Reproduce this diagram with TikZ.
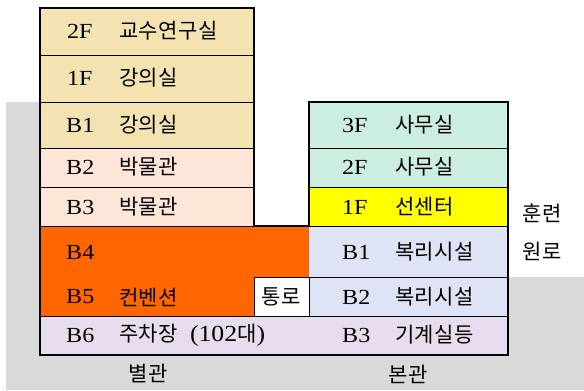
\documentclass[tikz,border=0pt]{standalone}
\usepackage{fontspec}
\setmainfont{Liberation Serif}[FakeStretch=1.12]
\newfontfamily\kr[LetterSpace=2]{Noto Sans CJK KR}
\definecolor{groundgray}{HTML}{D9D9D9}
\definecolor{tanfill}{HTML}{F3E3B1}
\definecolor{peachfill}{HTML}{FDE5D7}
\definecolor{orangefill}{HTML}{FF6600}
\definecolor{lavfill}{HTML}{E8DDEF}
\definecolor{mintfill}{HTML}{CCEEE0}
\definecolor{yelfill}{HTML}{FFFF00}
\definecolor{bluefill}{HTML}{DEE4F6}
\begin{document}
\begin{tikzpicture}[x=1pt,y=-1pt,
  wall/.style={draw=black,line width=1.2pt,line join=miter},
  sep/.style={draw=black,line width=1pt},
  lbl/.style={anchor=west,inner sep=0pt,font=\fontsize{21.5}{24}\selectfont},
  krl/.style={anchor=west,inner sep=0pt,font=\fontsize{21}{24}\selectfont\kr},
  krc/.style={anchor=center,inner sep=0pt,font=\fontsize{21}{24}\selectfont\kr}]
\useasboundingbox (0,0) rectangle (584,391);
% ground
\fill[groundgray] (6,102) -- (100,102) -- (100,277) -- (584,277) -- (584,390) -- (6,390) -- cycle;
% fills
\fill[tanfill] (40,8) rectangle (254,148);
\fill[peachfill] (40,148) rectangle (254,226);
\fill[orangefill] (40,226) rectangle (309,277);
\fill[orangefill] (40,277) rectangle (254,316);
\fill[white] (254,277) rectangle (309,316);
\fill[lavfill] (40,316) rectangle (508,355);
\fill[mintfill] (309,102) rectangle (508,187);
\fill[yelfill] (309,187) rectangle (508,226);
\fill[bluefill] (309,226) rectangle (508,316);
% separators
\foreach \y in {55,102,148,187,226} \draw[sep] (40,\y) -- (254,\y);
\foreach \y in {148,187,226,277,316} \draw[sep] (309,\y) -- (508,\y);
\draw[sep] (40,316) -- (309,316);
\draw[sep] (254,226) -- (309,226);
\draw[sep] (254,277) rectangle (309,316);
% outline
\draw[wall] (40,8) -- (254,8) -- (254,226) -- (309,226) -- (309,102) -- (508,102) -- (508,355) -- (40,355) -- cycle;
% left building labels
\node[lbl] (l2f) at (67,31) {2F};
\node[krl] (t2f) at (119,31) {교수연구실};
\node[lbl] (l1f) at (67,78) {1F};
\node[krl] (t1f) at (119,78) {강의실};
\node[lbl] (lb1) at (66,125) {B1};
\node[krl] (tb1) at (119,125) {강의실};
\node[lbl] (lb2) at (66,167) {B2};
\node[krl] (tb2) at (119,167) {박물관};
\node[lbl] (lb3) at (66,207) {B3};
\node[krl] (tb3) at (119,207) {박물관};
\node[lbl] (lb4) at (66,252) {B4};
\node[lbl] (lb5) at (66,297) {B5};
\node[krl] (tb5) at (119,297) {컨벤션};
\node[lbl] (lb6) at (66,335) {B6};
\node[krl] (tb6) at (119,335) {주차장\hspace{12pt}{\rmfamily\fontsize{23}{24}\selectfont(102}대{\rmfamily\fontsize{23}{24}\selectfont)}};
\node[krc] (pass) at (281.5,297) {통로};
% right building labels
\node[lbl] (r3f) at (342,125) {3F};
\node[krl] (s3f) at (395,125) {사무실};
\node[lbl] (r2f) at (342,167) {2F};
\node[krl] (s2f) at (395,167) {사무실};
\node[lbl] (r1f) at (342,207) {1F};
\node[krl] (s1f) at (395,207) {선센터};
\node[lbl] (rb1) at (342,252) {B1};
\node[krl] (sb1) at (395,252) {복리시설};
\node[lbl] (rb2) at (342,297) {B2};
\node[krl] (sb2) at (395,297) {복리시설};
\node[lbl] (rb3) at (342,335) {B3};
\node[krl] (sb3) at (395,335) {기계실등};
% side and bottom labels
\node[krc] (side1) at (542,213) {훈련};
\node[krc] (side2) at (542,251) {원로};
\node[krc] (annex) at (148,374) {별관};
\node[krc] (main) at (408,374) {본관};
\end{tikzpicture}
\end{document}
